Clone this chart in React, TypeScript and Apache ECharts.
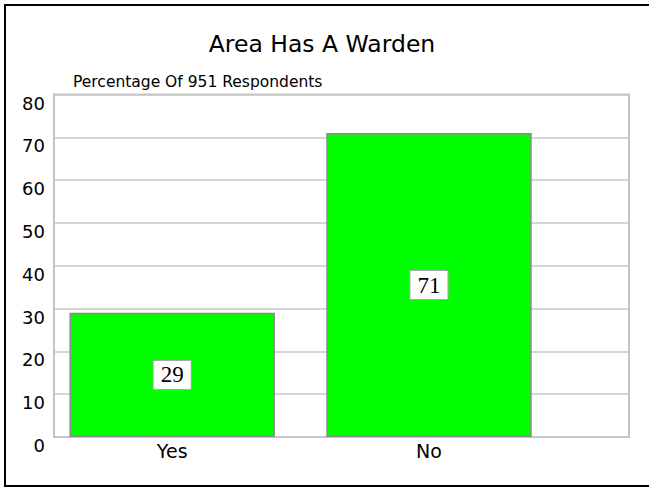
import React, { useEffect, useRef } from "react";
import * as echarts from "echarts";

const title = "Area Has A Warden";
const subtitle = "Percentage Of 951 Respondents";
const categories = ["Yes", "No"];
const values = [29, 71];
const yMin = 0;
const yMax = 80;
const yInterval = 10;

export default function App() {
  const ref = useRef<HTMLDivElement>(null);
  useEffect(() => {
    if (!ref.current) return;
    const chart = echarts.init(ref.current, null, { renderer: "svg" });
    const gridTop = 94.5;
    const gridBottom = 487 - 437;
    chart.setOption({
      animation: false,
      backgroundColor: "#ffffff",
      graphic: [
        {
          type: "rect",
          shape: { x: 5, y: 5, width: 700, height: 481 },
          style: { fill: "none", stroke: "#000", lineWidth: 2 },
          silent: true,
        },
        {
          type: "text",
          x: 322,
          y: 43.5,
          style: {
            text: title,
            fontFamily: "DejaVu Sans",
            fontSize: 23.5,
            fill: "#000",
            align: "center",
            verticalAlign: "middle",
          },
        },
        {
          type: "text",
          x: 73,
          y: 82,
          style: {
            text: subtitle,
            fontFamily: "DejaVu Sans",
            fontSize: 15.5,
            fill: "#000",
            align: "left",
            verticalAlign: "middle",
          },
        },
      ],
      grid: [
        {
          left: 54,
          right: 20,
          top: gridTop,
          bottom: gridBottom,
          show: true,
          borderColor: "#c4c4c4",
          borderWidth: 2,
          backgroundColor: "transparent",
        },
        {
          left: 43.8,
          width: 513.6,
          top: gridTop,
          bottom: gridBottom,
          show: false,
        },
      ],
      xAxis: [
        { gridIndex: 0, type: "value", show: false, min: 0, max: 1 },
        {
          gridIndex: 1,
          type: "category",
          data: categories,
          axisLine: { show: false },
          axisTick: { show: false },
          axisLabel: {
            fontFamily: "DejaVu Sans",
            fontSize: 19,
            color: "#000",
            margin: 4,
          },
        },
      ],
      yAxis: [
        {
          gridIndex: 0,
          type: "value",
          min: yMin,
          max: yMax,
          interval: yInterval,
          axisLine: { show: true, lineStyle: { color: "#c4c4c4", width: 2 } },
          axisTick: { show: false },
          splitLine: { show: true, lineStyle: { color: "#c8c8c8", width: 1.5 } },
          axisLabel: {
            fontFamily: "DejaVu Sans",
            fontSize: 18,
            color: "#000",
            margin: 9,
            verticalAlign: "top",
            lineHeight: 17,
          },
        },
        {
          gridIndex: 1,
          type: "value",
          min: yMin,
          max: yMax,
          interval: yInterval,
          show: false,
        },
      ],
      series: [
        {
          type: "bar",
          xAxisIndex: 1,
          yAxisIndex: 1,
          data: values,
          barWidth: "80%",
          itemStyle: {
            color: "#00ff00",
            borderColor: "#8a8a8a",
            borderWidth: 1.5,
          },
          label: {
            show: true,
            position: "inside",
            fontFamily: "Liberation Serif",
            fontSize: 23,
            color: "#000",
            backgroundColor: "#ffffff",
            borderColor: "#a8a8a8",
            borderWidth: 1,
            padding: [3, 7, 2, 7],
          },
        },
      ],
    });
    return () => chart.dispose();
  }, []);
  return (
    <div
      ref={ref}
      style={{ position: "fixed", left: 0, top: 0, width: 649, height: 487 }}
    />
  );
}
